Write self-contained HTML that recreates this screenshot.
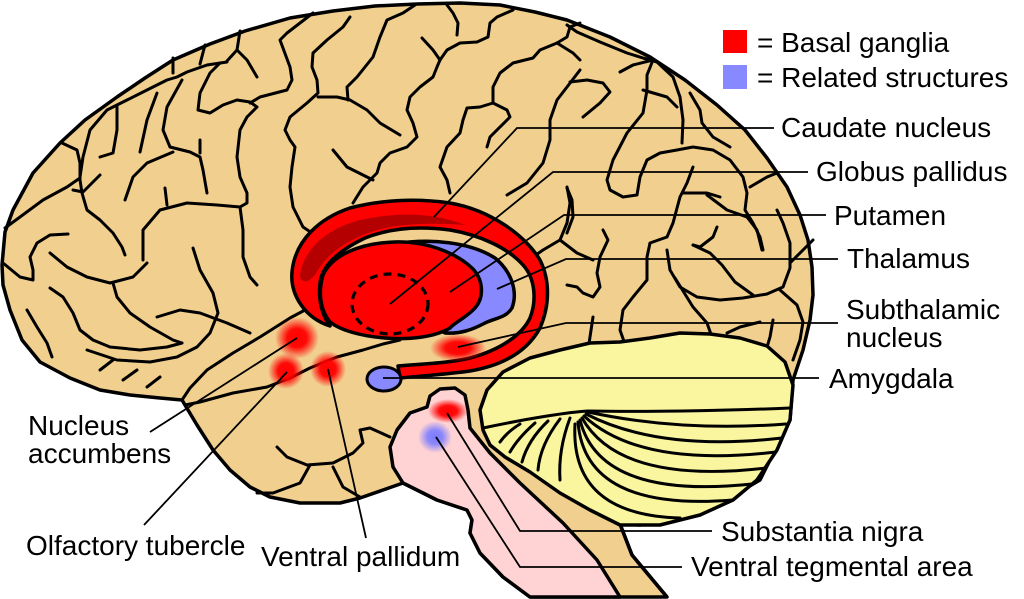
<!DOCTYPE html>
<html><head><meta charset="utf-8">
<style>
html,body{margin:0;padding:0;background:#fff;}
svg{display:block;}
.s{fill:none;stroke:#000;stroke-width:3;stroke-linecap:round;stroke-linejoin:round;}
.l{fill:none;stroke:#000;stroke-width:1.8;}
text{font-family:"Liberation Sans",Arial,sans-serif;font-size:28px;fill:#000;}
</style></head>
<body>
<svg width="1024" height="599" viewBox="0 0 1024 599" xmlns="http://www.w3.org/2000/svg">
<defs>
<radialGradient id="rr"><stop offset="0" stop-color="#ff0000" stop-opacity="1"/><stop offset="0.45" stop-color="#ff0000" stop-opacity="0.95"/><stop offset="1" stop-color="#ff0000" stop-opacity="0"/></radialGradient>
<radialGradient id="bb"><stop offset="0" stop-color="#7a7aff" stop-opacity="1"/><stop offset="0.45" stop-color="#8080ff" stop-opacity="0.9"/><stop offset="1" stop-color="#8080ff" stop-opacity="0"/></radialGradient>
</defs>

<!-- brain -->
<path d="M182,400 L160,398 L130,395 L100,390 L70,378 L40,362 L22,340 L10,310 L3,285 L2,265 L5,232 L13,210 L33,173 L60,143 L85,120 L117,97 L145,78 L173,60 L210,44 L245,31 L290,18 L333,11 L375,6 L417,4 L460,3 L500,5 L535,12 L567,20 L610,37 L650,57 L685,80 L717,105 L745,130 L767,158 L787,187 L800,215 L808,240 L812,267 L813,295 L810,320 L803,350 L793,380 L790,420 L760,480 L700,515 L640,525 L620,524 L632,555 L667,597 L530,597 L503,577 L480,553 L470,533 L472,520 L467,510 L437,500 L403,483 L383,490 L360,498 L340,503 L300,503 L270,497 L250,487 L230,470 L213,450 L197,425 Z" fill="#f1cf8f" stroke="#000" stroke-width="3.5" stroke-linejoin="round"/>

<!-- sulci -->
<g class="s">
<polyline points="62,143 77,150 80,163 80,180 82,193 87,210 100,220 113,233 122,247 125,255"/>
<polyline points="5,228 20,217 43,200 67,187 80,178"/>
<polyline points="73,190 83,192 100,175"/>
<polyline points="80,177 83,157 90,130 107,110 127,100 147,90 167,80 177,77 187,72 207,65 227,62"/>
<polyline points="173,58 173,73"/>
<polyline points="205,45 200,64"/>
<polyline points="240,31 237,50 227,61"/>
<polyline points="237,50 247,60 257,77"/>
<polyline points="117,107 117,130 113,153 100,157"/>
<polyline points="157,93 147,120 140,152"/>
<polyline points="182,80 167,107 163,130 170,147 190,152 200,157 203,170 207,193"/>
<polyline points="200,140 200,153"/>
<polyline points="125,200 133,177 147,163 173,152"/>
<polyline points="165,188 167,205"/>
<polyline points="220,63 210,73 200,93 198,110 210,113 223,105 237,100 250,102 257,107 247,117 240,130 237,157 240,177 247,193 247,203 240,207"/>
<polyline points="143,260 143,230 160,210 187,203 217,205 240,207"/>
<polyline points="240,207 243,230 243,257 250,277 257,285"/>
<polyline points="50,253 67,267 87,277 110,283 133,277 147,263"/>
<polyline points="3,263 20,277 33,280 33,270 30,257 37,243 50,235 68,234"/>
<polyline points="193,248 200,270 213,293 218,313 210,333 197,347 177,357 150,362 117,360 87,350"/>
<polyline points="50,288 63,297 73,313 80,330 93,340 110,347 140,350 167,347 182,343"/>
<polyline points="113,283 117,297 130,313 150,327 173,340 182,343"/>
<polyline points="27,310 37,327 47,343 52,357"/>
<polyline points="100,370 113,360"/>
<polyline points="123,380 137,370"/>
<polyline points="147,387 160,377"/>
<polyline points="157,317 180,310 200,313 227,323 250,333"/>
<polyline points="313,13 300,23 287,33 280,40 290,67 292,80 287,90 260,97 250,103"/>
<polyline points="350,17 343,27 327,40 313,53 312,67 317,80 318,93 307,103 290,117 285,130 290,140 295,147 292,167 290,187 293,207 303,227 312,233"/>
<polyline points="318,97 337,97 350,100 367,110 380,123 400,135"/>
<polyline points="415,5 403,13 387,20 380,37 373,57 357,77 347,87 348,100"/>
<polyline points="447,5 453,13 458,23 457,35"/>
<polyline points="513,10 497,17 490,23 488,37 477,42 460,43 447,50 440,60 437,67 433,77 420,87 410,97 407,110 413,123 417,137 407,147 390,153 380,163 377,173 363,187 353,203"/>
<polyline points="422,38 433,50 440,60"/>
<polyline points="333,150 347,167 373,180"/>
<polyline points="580,23 570,27 567,37 557,43 540,50 533,58 513,63 500,73 493,87 493,103 480,107 467,108 463,120 460,133 447,147 440,167 447,180 450,193"/>
<polyline points="493,103 507,110 510,117 500,127 490,137 487,147"/>
<polyline points="557,43 573,53 580,60"/>
<polyline points="580,70 567,87 557,100 550,120 550,140 543,163 527,183 507,195"/>
<polyline points="567,188 572,200 573,217 567,233"/>
<polyline points="567,25 577,32 600,42 627,53 643,58 657,62 673,77 680,97 683,120 682,143"/>
<polyline points="620,72 633,65 653,60"/>
<polyline points="653,60 647,75 647,90"/>
<polyline points="643,90 667,97 677,107"/>
<polyline points="570,82 587,80 603,83 610,92 600,103 583,117"/>
<polyline points="647,90 643,113 627,133 613,160 607,180 610,190 623,197 637,195 640,177 647,160 660,153 677,150 693,147 713,150 730,160 743,177 747,193 745,210 753,223 760,237 763,250"/>
<polyline points="690,93 700,110 702,123 713,137 730,147"/>
<polyline points="693,167 687,183 680,197 673,223 667,237 650,243 647,257 647,280 633,297 623,310 620,330 627,350"/>
<polyline points="683,193 707,193 720,197"/>
<polyline points="707,195 727,210 747,217 757,230 762,250"/>
<polyline points="750,187 767,177 777,173"/>
<polyline points="567,187 570,203 567,223 560,240 543,250 533,257"/>
<polyline points="603,230 608,240 600,257 597,273 600,287 593,297 583,293 577,287 567,285"/>
<polyline points="560,240 577,253 593,260"/>
<polyline points="717,227 713,237 700,247 693,245"/>
<polyline points="667,250 670,270 680,287 697,297 720,300 743,298 767,294 783,287 790,268 790,243 783,223 777,210"/>
<polyline points="693,245 710,253 722,265 735,282 753,295"/>
<polyline points="675,278 693,307 707,323 713,340"/>
<polyline points="780,290 797,305 803,322 800,340 793,360"/>
<polyline points="813,240 800,253 790,263"/>
<polyline points="593,317 590,337 588,350"/>
<polyline points="760,322 740,327 727,333"/>
<polyline points="773,320 770,337 767,347"/>
<polyline points="182,400 190,388 207,370 233,353 260,337 290,318 305,310"/>
<polyline points="185,405 200,402 233,393 267,387 290,378 310,368 337,357 363,350 383,344 400,340"/>
<polyline points="277,447 287,457 307,465 333,463 353,453 363,443 360,430 370,428 390,437"/>
<polyline points="310,465 300,483 273,493 257,493"/>
<polyline points="333,467 343,487 360,497"/>
</g>

<!-- cerebellum -->
<path d="M483,430 L480,410 L487,390 L503,372 L530,358 L560,350 L590,343 L620,342 L650,338 L680,333 L710,334 L740,338 L767,346 L785,362 L793,385 L790,420 L777,450 L757,480 L733,500 L700,515 L660,525 L620,525 L590,510 L560,493 L530,472 L505,457 L490,445 Z" fill="#faf59f" stroke="#000" stroke-width="3.5" stroke-linejoin="round"/>
<g class="s">
<path d="M483,428 C530,418 570,412 588,411 C640,412 720,411 790,408"/>
<path d="M588,412 Q680,432 786,424"/>
<path d="M586,414 Q660,452 782,438"/>
<path d="M584,416 Q640,468 776,452"/>
<path d="M582,418 Q620,485 766,468"/>
<path d="M580,420 Q600,500 752,484"/>
<path d="M578,422 Q585,512 733,500"/>
<path d="M575,424 Q570,515 680,518"/>
<path d="M570,418 Q558,450 560,480"/>
<path d="M560,419 Q540,445 538,470"/>
<path d="M548,421 Q528,440 522,462"/>
<path d="M535,423 Q518,438 510,452"/>
<path d="M520,424 Q507,432 500,442"/>
</g>

<!-- brainstem -->
<path d="M427,407 L430,396 L440,389 L455,388 L465,395 L468,410 L470,428 L490,453 L520,483 L563,523 L597,560 L620,597 L530,597 L503,577 L480,553 L470,533 L472,520 L467,510 L437,500 L403,483 L393,467 L390,447 L397,430 L410,413 Z" fill="#ffd3d3" stroke="#000" stroke-width="3.5" stroke-linejoin="round"/>
<path d="M620,524 L632,555 L667,597" fill="none" stroke="#000" stroke-width="3.5"/>

<!-- caudate -->
<path d="M330,326 C305,318 290,295 292,272 C295,240 320,218 350,208 C380,200 415,198 450,203 C490,210 525,235 540,260 C550,280 550,305 540,328 C528,350 505,365 470,371 C450,374 420,376 400,378 L398,366 C420,364 450,363 470,358 C500,350 522,335 530,318 C537,300 535,278 523,265 C508,248 480,235 450,230 C420,226 390,228 365,238 C340,250 322,265 320,283 C318,300 322,315 330,326 Z" fill="#ff0000" stroke="#000" stroke-width="3.5" stroke-linejoin="round"/>
<path d="M300,276 C303,248 330,226 365,219 C400,212 435,213 465,225 C440,223 410,223 385,228 C355,235 330,250 318,270 C312,281 302,286 300,276 Z" fill="#b40000"/>
<!-- thalamus -->
<path d="M395,244 C430,238 470,242 495,258 C512,272 518,292 512,308 C506,318 495,318 485,323 C472,330 460,334 445,333 L420,320 Z" fill="#8888ff" stroke="#000" stroke-width="3.5" stroke-linejoin="round"/>
<!-- lentiform -->
<path d="M323,275 C332,255 360,243 395,242 C425,241 455,252 472,268 C484,280 484,298 475,308 C466,318 455,322 450,328 C435,337 410,340 385,338 C360,336 340,330 330,322 C320,310 318,292 323,275 Z" fill="#ff0000" stroke="#000" stroke-width="3.5" stroke-linejoin="round"/>
<ellipse cx="390" cy="304" rx="38" ry="30" fill="none" stroke="#000" stroke-width="3.2" stroke-dasharray="8 6"/>
<!-- amygdala -->
<ellipse cx="384" cy="379" rx="17" ry="12" fill="#8888ff" stroke="#000" stroke-width="3"/>

<!-- blurred spots -->
<ellipse cx="297" cy="338" rx="22" ry="21" fill="url(#rr)"/>
<ellipse cx="286" cy="371" rx="18" ry="18" fill="url(#rr)"/>
<ellipse cx="328" cy="369" rx="18" ry="18" fill="url(#rr)"/>
<ellipse cx="458" cy="348" rx="28" ry="14" fill="url(#rr)"/>
<ellipse cx="448" cy="411" rx="20" ry="12" fill="url(#rr)"/>
<ellipse cx="435" cy="437" rx="17" ry="16" fill="url(#bb)"/>

<!-- leader lines -->
<g class="l">
<polyline points="774,128 517,128 434,217"/>
<polyline points="808,172 553,172 390,304"/>
<polyline points="826,215 564,215 450,292"/>
<polyline points="838,259 566,259 497,289"/>
<polyline points="838,323 566,323 458,347"/>
<polyline points="819,378 383,378"/>
<polyline points="712,531 520,531 447,413"/>
<polyline points="682,567 520,567 436,437"/>
<polyline points="150,432 297,338"/>
<polyline points="144,525 287,372"/>
<polyline points="366,538 328,369"/>
</g>

<!-- legend -->
<rect x="723" y="30" width="24" height="23" fill="#ff0000"/>
<rect x="723" y="65" width="24" height="24" fill="#8888ff"/>
<text x="757" y="52">= Basal ganglia</text>
<text x="757" y="87">= Related structures</text>

<!-- labels -->
<text x="781" y="137">Caudate nucleus</text>
<text x="816" y="181">Globus pallidus</text>
<text x="834" y="225">Putamen</text>
<text x="847" y="268">Thalamus</text>
<text x="846" y="319">Subthalamic</text>
<text x="846" y="347">nucleus</text>
<text x="829" y="388">Amygdala</text>
<text x="721" y="541">Substantia nigra</text>
<text x="691" y="576">Ventral tegmental area</text>
<text x="28" y="435">Nucleus</text>
<text x="28" y="463">accumbens</text>
<text x="26" y="555">Olfactory tubercle</text>
<text x="261" y="566">Ventral pallidum</text>
</svg>
</body></html>
